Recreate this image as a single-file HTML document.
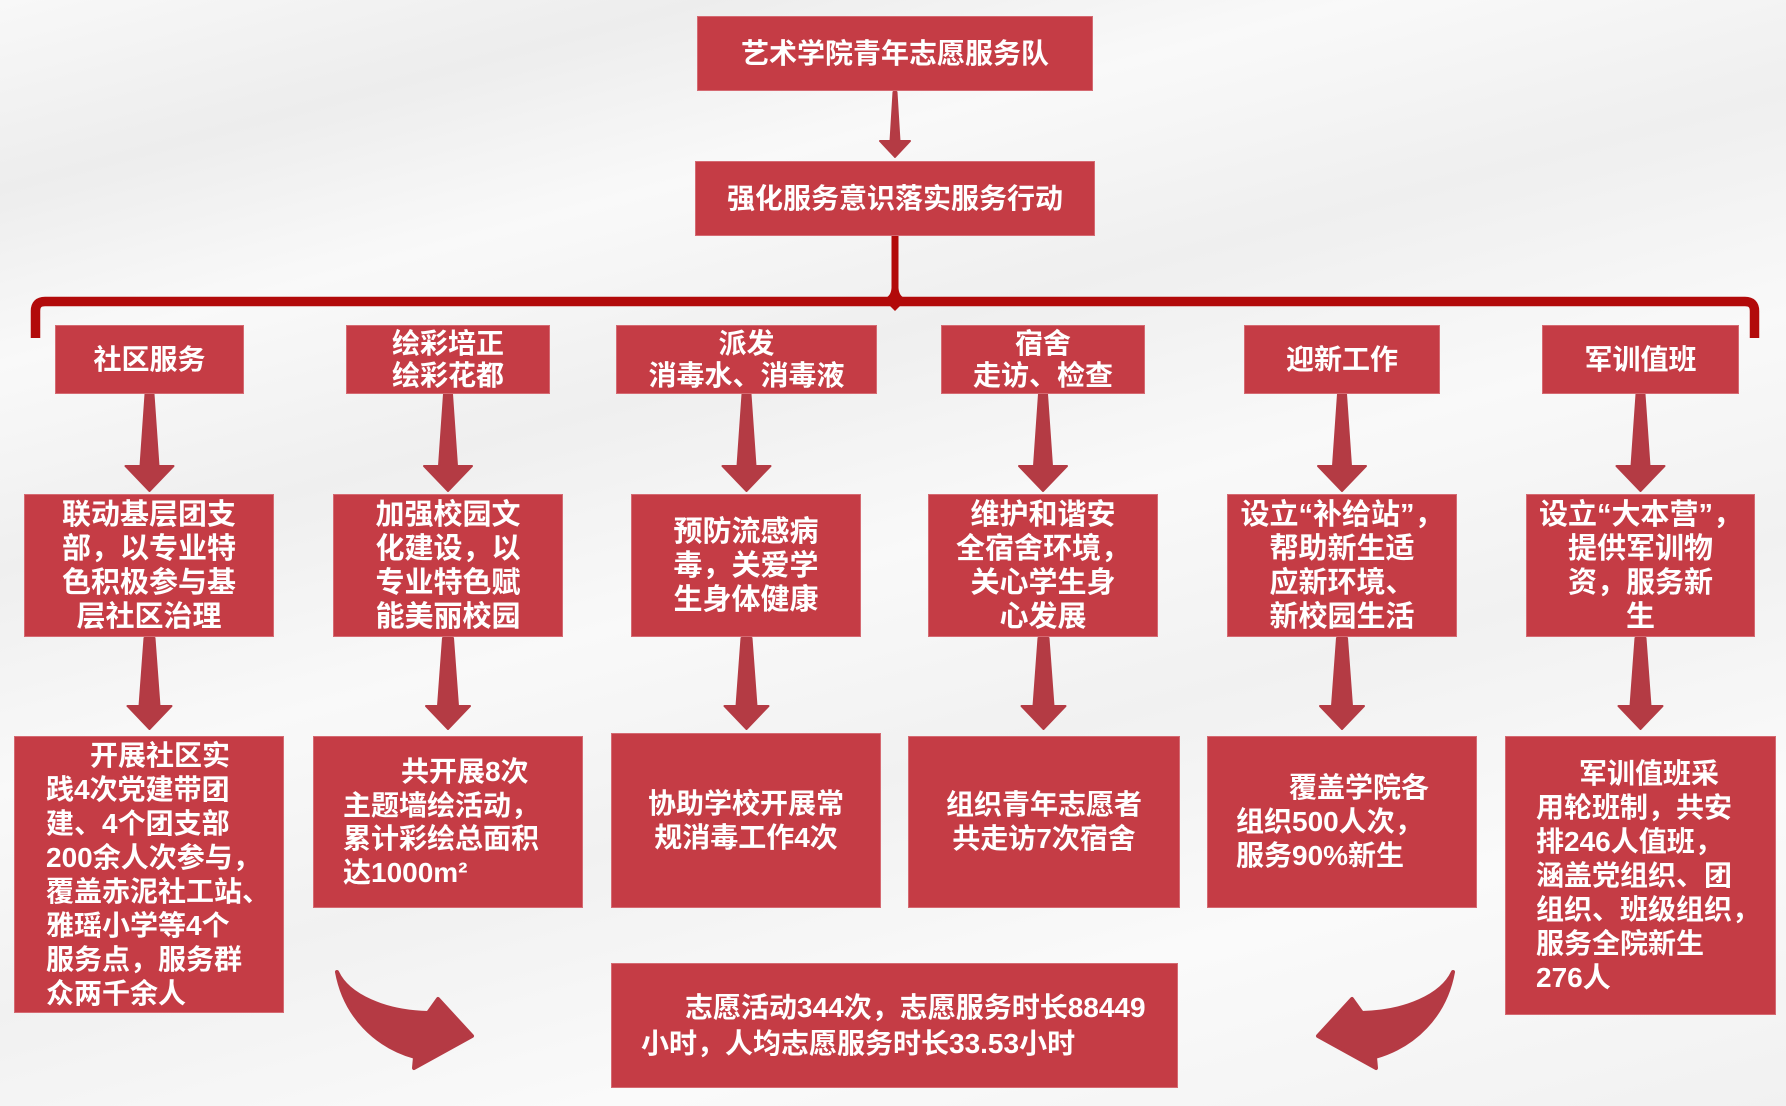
<!DOCTYPE html>
<html><head><meta charset="utf-8">
<style>
html,body{margin:0;padding:0;}
body{width:1786px;height:1106px;overflow:hidden;position:relative;
background:linear-gradient(165deg,#f8f8f8 0%,#ededed 12%,#f9f9f9 23%,#efefef 36%,#f9f9f9 50%,#f1f1f1 64%,#fafafa 80%,#f1f1f1 100%);
font-family:"Liberation Sans","Noto Sans CJK SC",sans-serif;}
svg{position:absolute;left:0;top:0;}
.b{position:absolute;background:#c53c45;color:#fff;display:flex;flex-direction:column;justify-content:center;font-weight:bold;white-space:nowrap;box-sizing:border-box;border:1px solid #d56a72;}
.c{align-items:center;text-align:center;}
.l{align-items:flex-start;}
.f28{font-size:28px;}
.f29{font-size:29px;line-height:34px;}
.lv1{line-height:32px;}
.lv3{line-height:34px;}
</style></head>
<body>
<svg width="1786" height="1106" viewBox="0 0 1786 1106">
  <!-- top arrow -->
  <path d="M893.5 92 L896.5 92 L899.5 141 L910 141 L895 157 L880 141 L890.5 141 Z" fill="#b43b44" stroke="#b43b44" stroke-width="2" stroke-linejoin="round"/>
  <!-- center line + bracket -->
  <path d="M891.5 236 L898.5 236 L898.5 288 Q 899 297 907 299 L883 299 Q 891 297 891.5 288 Z" fill="#b20a0a"/>
  <path d="M35.5 338 L35.5 311 Q 35.5 301.5 45 301.5 L1745 301.5 Q 1754.5 301.5 1754.5 311 L1754.5 338" fill="none" stroke="#b20a0a" stroke-width="9.5"/>
  <path d="M889 305 L901 305 L895 311 Z" fill="#b20a0a"/>
  <!-- level1 -> level2 arrows -->
  <g fill="#b43b44" stroke="#b43b44" stroke-width="2" stroke-linejoin="round">
    <path transform="translate(149.5,0)" d="M-4 394 L4 394 L9 466 L24 466 L0 491 L-24 466 L-9 466 Z"/>
    <path transform="translate(448,0)" d="M-4 394 L4 394 L9 466 L24 466 L0 491 L-24 466 L-9 466 Z"/>
    <path transform="translate(746.5,0)" d="M-4 394 L4 394 L9 466 L24 466 L0 491 L-24 466 L-9 466 Z"/>
    <path transform="translate(1043,0)" d="M-4 394 L4 394 L9 466 L24 466 L0 491 L-24 466 L-9 466 Z"/>
    <path transform="translate(1342,0)" d="M-4 394 L4 394 L9 466 L24 466 L0 491 L-24 466 L-9 466 Z"/>
    <path transform="translate(1640.5,0)" d="M-4 394 L4 394 L9 466 L24 466 L0 491 L-24 466 L-9 466 Z"/>
    <!-- level2 -> level3 arrows -->
    <path transform="translate(149.5,0)" d="M-5 638 L5 638 L10 706 L22 706 L0 729 L-22 706 L-10 706 Z"/>
    <path transform="translate(448,0)" d="M-5 638 L5 638 L10 706 L22 706 L0 729 L-22 706 L-10 706 Z"/>
    <path transform="translate(746.5,0)" d="M-5 638 L5 638 L10 706 L22 706 L0 729 L-22 706 L-10 706 Z"/>
    <path transform="translate(1043.5,0)" d="M-5 638 L5 638 L10 706 L22 706 L0 729 L-22 706 L-10 706 Z"/>
    <path transform="translate(1342,0)" d="M-5 638 L5 638 L10 706 L22 706 L0 729 L-22 706 L-10 706 Z"/>
    <path transform="translate(1640.5,0)" d="M-5 638 L5 638 L10 706 L22 706 L0 729 L-22 706 L-10 706 Z"/>
  </g>
  <!-- curved arrows -->
  <g fill="#b53a44" stroke="#b53a44" stroke-width="4" stroke-linejoin="round">
    <path d="M337 972 C 348 996, 385 1012, 428 1013 L 438 999 L 472 1036 L 414 1068 L 415 1057 C 376 1046, 345 1016, 337 972 Z"/>
    <path transform="translate(1790,0) scale(-1,1)" d="M337 972 C 348 996, 385 1012, 428 1013 L 438 999 L 472 1036 L 414 1068 L 415 1057 C 376 1046, 345 1016, 337 972 Z"/>
  </g>
</svg>

<!-- top boxes -->
<div class="b c f28" style="left:697px;top:16px;width:396px;height:75px;line-height:75px;">艺术学院青年志愿服务队</div>
<div class="b c f28" style="left:695px;top:161px;width:400px;height:75px;line-height:75px;">强化服务意识落实服务行动</div>

<!-- level 1 -->
<div class="b c f28 lv1" style="left:55px;top:325px;width:189px;height:69px;"><div>社区服务</div></div>
<div class="b c f28 lv1" style="left:346px;top:325px;width:204px;height:69px;"><div>绘彩培正</div><div>绘彩花都</div></div>
<div class="b c f28 lv1" style="left:616px;top:325px;width:261px;height:69px;"><div>派发</div><div>消毒水、消毒液</div></div>
<div class="b c f28 lv1" style="left:941px;top:325px;width:204px;height:69px;"><div>宿舍</div><div>走访、检查</div></div>
<div class="b c f28 lv1" style="left:1244px;top:325px;width:196px;height:69px;"><div>迎新工作</div></div>
<div class="b c f28 lv1" style="left:1542px;top:325px;width:197px;height:69px;"><div>军训值班</div></div>

<!-- level 2 -->
<div class="b c f29" style="left:24px;top:494px;width:250px;height:143px;"><div>联动基层团支</div><div>部，以专业特</div><div>色积极参与基</div><div>层社区治理</div></div>
<div class="b c f29" style="left:333px;top:494px;width:230px;height:143px;"><div>加强校园文</div><div>化建设，以</div><div>专业特色赋</div><div>能美丽校园</div></div>
<div class="b c f29" style="left:631px;top:494px;width:230px;height:143px;"><div>预防流感病</div><div>毒，关爱学</div><div>生身体健康</div></div>
<div class="b c f29" style="left:928px;top:494px;width:230px;height:143px;"><div>维护和谐安</div><div>全宿舍环境，</div><div>关心学生身</div><div>心发展</div></div>
<div class="b c f29" style="left:1227px;top:494px;width:230px;height:143px;"><div>设立“补给站”，</div><div>帮助新生适</div><div>应新环境、</div><div>新校园生活</div></div>
<div class="b c f29" style="left:1526px;top:494px;width:229px;height:143px;"><div>设立“大本营”，</div><div>提供军训物</div><div>资，服务新</div><div>生</div></div>

<!-- level 3 -->
<div class="b l f28 lv3" style="left:14px;top:736px;width:270px;height:277px;padding-left:31px;">
<div style="padding-left:44px;">开展社区实</div><div>践4次党建带团</div><div>建、4个团支部</div><div>200余人次参与，</div><div>覆盖赤泥社工站、</div><div>雅瑶小学等4个</div><div>服务点，服务群</div><div>众两千余人</div></div>
<div class="b l f28 lv3" style="left:313px;top:736px;width:270px;height:172px;padding-left:29px;line-height:33.5px;">
<div style="padding-left:58px;">共开展8次</div><div>主题墙绘活动，</div><div>累计彩绘总面积</div><div>达1000m²</div></div>
<div class="b c f28 lv3" style="left:611px;top:733px;width:270px;height:175px;"><div>协助学校开展常</div><div>规消毒工作4次</div></div>
<div class="b c f28 lv3" style="left:908px;top:736px;width:272px;height:172px;"><div>组织青年志愿者</div><div>共走访7次宿舍</div></div>
<div class="b l f28 lv3" style="left:1207px;top:736px;width:270px;height:172px;padding-left:28px;">
<div style="padding-left:53px;">覆盖学院各</div><div>组织500人次，</div><div>服务90%新生</div></div>
<div class="b l f28 lv3" style="left:1505px;top:736px;width:271px;height:279px;padding-left:30px;">
<div style="padding-left:43px;">军训值班采</div><div>用轮班制，共安</div><div>排246人值班，</div><div>涵盖党组织、团</div><div>组织、班级组织，</div><div>服务全院新生</div><div>276人</div></div>

<!-- bottom -->
<div class="b l f28" style="left:611px;top:963px;width:567px;height:125px;padding-left:29px;line-height:36px;">
<div style="padding-left:44px;">志愿活动344次，志愿服务时长88449</div><div>小时，人均志愿服务时长33.53小时</div></div>
</body></html>
